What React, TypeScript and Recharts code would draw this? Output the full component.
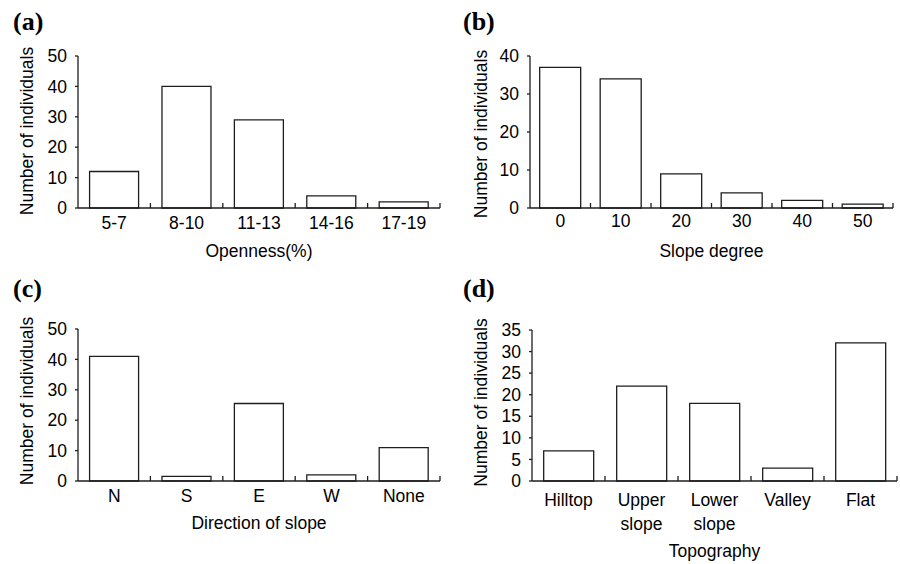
import React from "react";
import { Bar, BarChart, Label, XAxis, YAxis } from "recharts";

const opennessClasses = ["5-7", "8-10", "11-13", "14-16", "17-19"];
const opennessCounts = [12, 40, 29, 4, 2];

const slopeDegrees = ["0", "10", "20", "30", "40", "50"];
const slopeCounts = [37, 34, 9, 4, 2, 1];

const slopeDirections = ["N", "S", "E", "W", "None"];
const directionCounts = [41, 1.5, 25.5, 2, 11];

const topographyTypes = ["Hilltop", "Upper slope", "Lower slope", "Valley", "Flat"];
const topographyCounts = [7, 22, 18, 3, 32];

const ticksTo50 = [0, 10, 20, 30, 40, 50];
const ticksTo40 = [0, 10, 20, 30, 40];
const ticksTo35 = [0, 5, 10, 15, 20, 25, 30, 35];

const INK = "#1e1e1e";
const SANS = "'Liberation Sans', Arial, Helvetica, sans-serif";
const FONT_SIZE = 17.5;

interface PanelProps {
  letter: string;
  left: number;
  top: number;
  letterTop: number;
  categories: string[];
  counts: number[];
  yTicks: number[];
  xTitle: string;
  yAxisWidth: number;
  plotTop: number;
  xAxisHeight: number;
  marginRight: number;
  tickBaseline: number;
  titleBaseline: number;
  yLabelX: number;
  yLabelShift: number;
}

const W = 450;
const H = 282;

function XTick(props: any) {
  const { x, y, payload, baseline, half } = props;
  const h = payload?.offset ?? half;
  const lines = String(payload.value).split(" ");
  return (
    <g>
      <line x1={x + h} x2={x + h} y1={y} y2={y - 5} stroke={INK} strokeWidth={1.3} />
      <text textAnchor="middle" fontSize={FONT_SIZE} fontFamily={SANS} fill="#000">
        {lines.map((l, i) => (
          <tspan key={i} x={x} y={y + baseline + i * 24}>
            {l}
          </tspan>
        ))}
      </text>
    </g>
  );
}

function Panel(p: PanelProps) {
  const data = p.categories.map((c, i) => ({ name: c, count: p.counts[i] }));
  const plotWidth = W - p.yAxisWidth - p.marginRight;
  const plotHeight = H - p.plotTop - p.xAxisHeight;
  const yMax = p.yTicks[p.yTicks.length - 1];

  return (
    <div style={{ position: "absolute", left: p.left, top: p.top, width: W, height: H }}>
      <div
        style={{
          position: "absolute",
          left: 13,
          top: p.letterTop,
          fontFamily: "'Liberation Serif', 'Times New Roman', serif",
          fontWeight: "bold",
          fontSize: 26,
          lineHeight: "24px",
          color: "#000",
        }}
      >
        {p.letter}
      </div>
      <BarChart
        width={W}
        height={H}
        data={data}
        margin={{ top: p.plotTop, right: p.marginRight, bottom: 0, left: 0 }}
        barCategoryGap="16%"
      >
        <XAxis
          dataKey="name"
          height={p.xAxisHeight}
          interval={0}
          tickLine={false}
          tickSize={0}
          tickMargin={0}
          axisLine={{ stroke: INK, strokeWidth: 1.3 }}
          tick={<XTick baseline={p.tickBaseline} half={plotWidth / (2 * p.categories.length)} />}
        >
          <Label
            content={(lp: any) => {
              const vb = lp.viewBox || {};
              const cx = (vb.x ?? p.yAxisWidth) + (vb.width ?? plotWidth) / 2;
              const y0 = vb.y ?? p.plotTop + plotHeight;
              return (
                <text
                  x={cx}
                  y={y0 + p.titleBaseline}
                  textAnchor="middle"
                  fontSize={FONT_SIZE}
                  fontFamily={SANS}
                  fill="#000"
                >
                  {p.xTitle}
                </text>
              );
            }}
          />
        </XAxis>
        <YAxis
          width={p.yAxisWidth}
          domain={[0, yMax]}
          ticks={p.yTicks}
          interval={0}
          tickSize={3}
          tickMargin={8}
          axisLine={{ stroke: INK, strokeWidth: 1.3 }}
          tickLine={{ stroke: INK, strokeWidth: 1.3 }}
          tick={{ fontSize: FONT_SIZE, fontFamily: SANS, fill: "#000" }}
        >
          <Label
            content={(lp: any) => {
              const vb = lp.viewBox || {};
              const x0 = vb.x ?? 0;
              const cy = (vb.y ?? p.plotTop) + (vb.height ?? plotHeight) / 2 + p.yLabelShift;
              const lx = x0 + p.yLabelX;
              return (
                <text
                  x={lx}
                  y={cy}
                  transform={`rotate(-90 ${lx} ${cy})`}
                  textAnchor="middle"
                  fontSize={FONT_SIZE}
                  fontFamily={SANS}
                  fill="#000"
                >
                  Number of individuals
                </text>
              );
            }}
          />
        </YAxis>
        <Bar
          dataKey="count"
          fill="#fff"
          stroke={INK}
          strokeWidth={1.3}
          isAnimationActive={false}
        />
      </BarChart>
    </div>
  );
}

export default function App() {
  return (
    <div
      style={{
        position: "absolute",
        left: 0,
        top: 0,
        width: 900,
        height: 564,
        background: "#fff",
        overflow: "hidden",
      }}
    >
      <Panel
        letter="(a)"
        left={0}
        top={0}
        letterTop={10}
        categories={opennessClasses}
        counts={opennessCounts}
        yTicks={ticksTo50}
        xTitle="Openness(%)"
        yAxisWidth={78}
        plotTop={56}
        xAxisHeight={74}
        marginRight={10}
        tickBaseline={21}
        titleBaseline={49}
        yLabelX={33}
        yLabelShift={-1}
      />
      <Panel
        letter="(b)"
        left={450}
        top={0}
        letterTop={10}
        categories={slopeDegrees}
        counts={slopeCounts}
        yTicks={ticksTo40}
        xTitle="Slope degree"
        yAxisWidth={80}
        plotTop={56}
        xAxisHeight={74}
        marginRight={7}
        tickBaseline={19}
        titleBaseline={49}
        yLabelX={37}
        yLabelShift={2}
      />
      <Panel
        letter="(c)"
        left={0}
        top={282}
        letterTop={-5}
        categories={slopeDirections}
        counts={directionCounts}
        yTicks={ticksTo50}
        xTitle="Direction of slope"
        yAxisWidth={78}
        plotTop={47}
        xAxisHeight={83}
        marginRight={10}
        tickBaseline={21}
        titleBaseline={48}
        yLabelX={33}
        yLabelShift={-4}
      />
      <Panel
        letter="(d)"
        left={450}
        top={282}
        letterTop={-5}
        categories={topographyTypes}
        counts={topographyCounts}
        yTicks={ticksTo35}
        xTitle="Topography"
        yAxisWidth={82}
        plotTop={48}
        xAxisHeight={83}
        marginRight={3}
        tickBaseline={25}
        titleBaseline={76}
        yLabelX={37}
        yLabelShift={-3}
      />
    </div>
  );
}
